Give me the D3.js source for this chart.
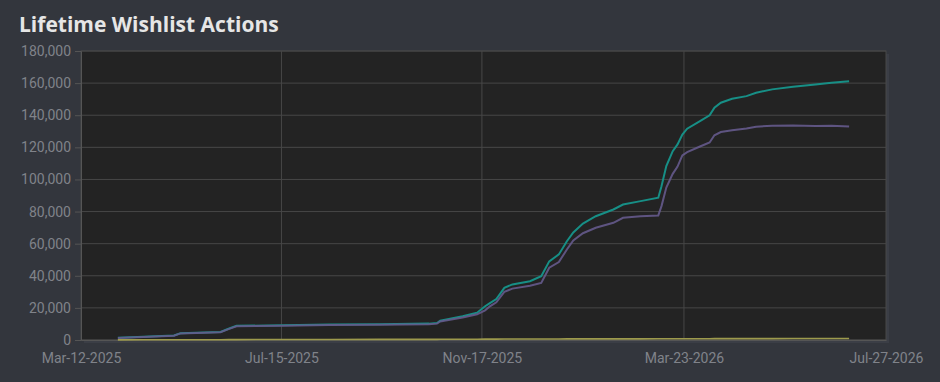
<!DOCTYPE html>
<html>
<head>
<meta charset="utf-8">
<script src="https://cdn.jsdelivr.net/npm/d3@7"></script>
<style>
  body { margin: 0; background: #33363d; }
  svg { display: block; }
</style>
</head>
<body>
<div id="chart"></div>
<script>
// sample dates shared by the series
var dates = ["2025-04-04","2025-04-20","2025-05-09","2025-05-13","2025-06-07","2025-06-12","2025-06-17",
  "2025-07-16","2025-08-14","2025-09-14","2025-10-15","2025-10-20","2025-10-22","2025-11-05","2025-11-14",
  "2025-11-19","2025-11-22","2025-11-26","2025-12-01","2025-12-06","2025-12-17","2025-12-24","2025-12-29",
  "2026-01-04","2026-01-09","2026-01-13","2026-01-19","2026-01-27","2026-02-07","2026-02-13","2026-02-24",
  "2026-03-07","2026-03-09","2026-03-12","2026-03-16","2026-03-19","2026-03-22","2026-03-25","2026-04-02",
  "2026-04-08","2026-04-11","2026-04-15","2026-04-22","2026-05-01","2026-05-07","2026-05-17","2026-05-30",
  "2026-06-13","2026-06-23","2026-07-04"];

var adds = [1400,2000,2800,4200,5000,7000,8800,
  9200,9600,9800,10200,10600,12000,14800,17000,
  21000,23000,25500,32500,34600,36600,39700,49000,
  53300,61500,67000,72500,77100,81300,84400,86500,
  88600,95800,108300,117600,121800,128000,131600,136300,
  139900,144700,147800,150300,151900,154000,156100,157700,
  159200,160200,161200];

var net = [1300,1900,2700,4100,4900,6800,8500,
  8900,9300,9500,9800,10200,11500,14000,16000,
  18500,21000,23500,30000,32000,33800,35500,45000,
  48500,56400,62000,66500,69900,73000,76100,77100,
  77600,83400,95000,103500,108000,115000,117000,120500,
  123000,127500,129500,130600,131700,132800,133500,133600,
  133300,133500,132900];

var gifts = [100,120,150,160,200,220,250,
  300,330,360,400,420,430,460,500,
  520,540,560,580,600,620,640,650,
  660,670,680,690,700,710,720,730,
  740,750,760,770,780,790,800,810,
  820,830,840,850,860,870,880,890,
  900,910,920];

var yTicks = [0,20000,40000,60000,80000,100000,120000,140000,160000,180000];
var xTicks = ["2025-03-12","2025-07-15","2025-11-17","2026-03-23","2026-07-27"];

var W = 940, H = 382;
var margins = { top: 51, right: 54, bottom: 42, left: 81 };
var width = W - margins.left - margins.right;
var height = H - margins.top - margins.bottom;

var parse = d3.timeParse("%Y-%m-%d");
var fmtDate = d3.timeFormat("%b-%d-%Y");

var svg = d3.select("#chart").append("svg").attr("width", W).attr("height", H);

svg.append("text").attr("x", 19).attr("y", 32)
  .style("font-family", "'Open Sans', sans-serif").style("font-weight", "bold")
  .style("font-size", "21px").attr("fill", "#e6e6e6").text("Lifetime Wishlist Actions");

var g = svg.append("g").attr("transform", "translate(" + margins.left + "," + margins.top + ")");

var x = d3.scaleTime().domain([parse(xTicks[0]), parse(xTicks[xTicks.length - 1])]).range([0, width]);
var y = d3.scaleLinear().domain([0, 180000]).range([height, 0]);

// shadow + plot background
g.append("rect").attr("x", 3).attr("y", 3).attr("width", width).attr("height", height).attr("fill", "#3b3e46");
g.append("rect").attr("width", width).attr("height", height).attr("fill", "#232323")
  .attr("stroke", "#484848");

// grid
g.append("g").selectAll("line").data(yTicks).join("line")
  .attr("x1", 0).attr("x2", width).attr("y1", d => y(d)).attr("y2", d => y(d))
  .attr("stroke", "#474747").attr("stroke-width", 1);
g.append("g").selectAll("line").data(xTicks.slice(1, -1)).join("line")
  .attr("y1", 0).attr("y2", height).attr("x1", d => x(parse(d))).attr("x2", d => x(parse(d)))
  .attr("stroke", "#474747").attr("stroke-width", 1);

// axes
var yAxis = g.append("g")
  .call(d3.axisLeft(y).tickValues(yTicks).tickFormat(d3.format(",")).tickSize(6).tickPadding(4));
var xAxis = g.append("g").attr("transform", "translate(0," + height + ")")
  .call(d3.axisBottom(x).tickValues(xTicks.map(parse)).tickFormat(fmtDate).tickSize(0).tickPadding(13));
[yAxis, xAxis].forEach(function (a) {
  a.select(".domain").attr("stroke", "#555");
  a.selectAll(".tick line").attr("stroke", "#555");
  a.selectAll("text").attr("fill", "#80838a")
    .style("font-family", "Roboto, sans-serif").style("font-size", "14px");
});

var line = d3.line()
  .x(function (d, i) { return x(parse(dates[i])); })
  .y(function (d) { return y(d); });

g.append("path").datum(gifts).attr("fill", "none").attr("stroke", "#9d9a4c").attr("stroke-width", 1.6).attr("d", line);
g.append("path").datum(adds).attr("fill", "none").attr("stroke", "#178f86").attr("stroke-width", 2).attr("d", line);
g.append("path").datum(net).attr("fill", "none").attr("stroke", "#655a8c").attr("stroke-width", 2)
  .attr("stroke-opacity", 0.9).attr("d", line);
</script>
</body>
</html>
